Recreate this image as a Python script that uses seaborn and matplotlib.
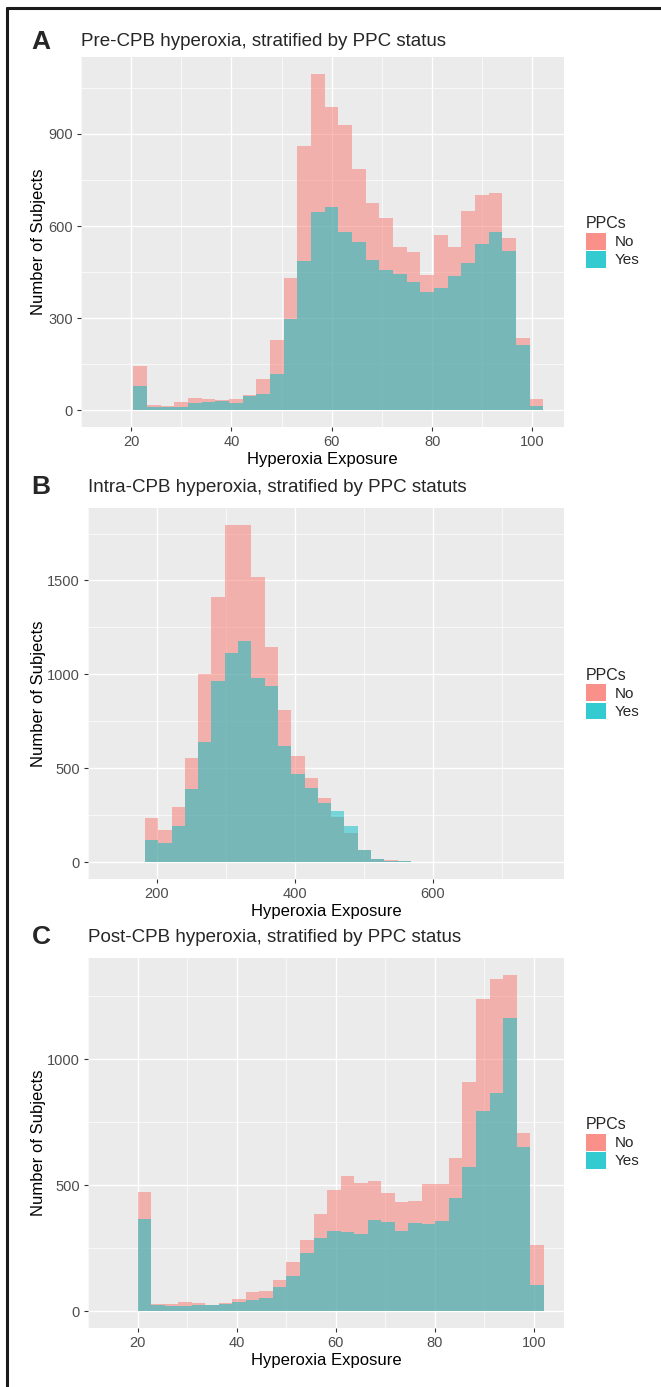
import numpy as np
import pandas as pd
import matplotlib
matplotlib.use('Agg')
import matplotlib.pyplot as plt
import seaborn as sns
from matplotlib.patches import Patch
from matplotlib.lines import Line2D

# counts per bin (30 bins each)
pre_no = [144, 16, 14, 27, 41, 38, 32, 36, 49, 103, 230, 430, 860, 1096, 988,
          928, 786, 676, 626, 532, 516, 442, 570, 532, 648, 700, 709, 560, 236, 36]
pre_yes = [79, 10, 9, 11, 22, 27, 30, 24, 45, 54, 119, 297, 485, 646, 663,
           579, 548, 488, 458, 444, 417, 384, 397, 438, 478, 543, 579, 519, 211, 13]
pre_range = [20.4, 102.2]

intra_no = [236, 169, 296, 554, 1003, 1411, 1793, 1796, 1518, 1148, 808, 563, 449, 341, 243,
            154, 66, 18, 9, 5, 3, 2, 2, 1, 1, 0, 0, 0, 0, 1]
intra_yes = [119, 101, 195, 390, 639, 967, 1113, 1180, 980, 937, 621, 467, 396, 314, 270,
             195, 62, 15, 7, 4, 2, 1, 1, 1, 0, 1, 0, 0, 0, 0]
intra_range = [182.6, 761.6]

post_no = [472, 29, 29, 38, 33, 26, 32, 49, 75, 79, 124, 197, 283, 384, 480,
           536, 509, 517, 470, 434, 437, 503, 503, 608, 907, 1239, 1318, 1334, 707, 262]
post_yes = [364, 26, 20, 22, 25, 26, 29, 38, 46, 53, 95, 141, 230, 289, 317,
            314, 308, 362, 355, 318, 351, 345, 358, 450, 572, 792, 867, 1164, 651, 105]
post_range = [20.0, 102.0]

pre_xticks = [20, 40, 60, 80, 100]
pre_yticks = [0, 300, 600, 900]
intra_xticks = [200, 400, 600]
intra_yticks = [0, 500, 1000, 1500]
post_xticks = [20, 40, 60, 80, 100]
post_yticks = [0, 500, 1000]

titles = ["Pre-CPB hyperoxia, stratified by PPC status",
          "Intra-CPB hyperoxia, stratified by PPC statuts",
          "Post-CPB hyperoxia, stratified by PPC status"]
letters = ["A", "B", "C"]

palette = {'No': '#F8766D', 'Yes': '#00BFC4'}

sns.set_style("darkgrid", {"axes.facecolor": "#EBEBEB", "grid.color": "white"})
plt.rcParams['font.family'] = ['Liberation Sans', 'DejaVu Sans']

W, H = 661, 1387
fig = plt.figure(figsize=(W / 100, H / 100), dpi=100)

# panel boxes in pixels: left, right, top, bottom
boxes = [(81, 564, 57, 427), (88, 564, 508, 879), (88, 564, 958, 1328)]
title_y = [42, 487, 937]

panels = [
    (pre_no, pre_yes, pre_range, pre_xticks, pre_yticks, 10, 150),
    (intra_no, intra_yes, intra_range, intra_xticks, intra_yticks, 100, 250),
    (post_no, post_yes, post_range, post_xticks, post_yticks, 10, 250),
]

for i, (no, yes, rng, xt, yt, xminor, yminor) in enumerate(panels):
    l, r, t, b = boxes[i]
    ax = fig.add_axes([l / W, 1 - b / H, (r - l) / W, (b - t) / H])

    edges = np.linspace(rng[0], rng[1], len(no) + 1)
    centers = (edges[:-1] + edges[1:]) / 2
    df = pd.DataFrame({
        'exposure': np.concatenate([centers, centers]),
        'count': np.concatenate([no, yes]).astype(float),
        'PPCs': ['No'] * len(no) + ['Yes'] * len(yes),
    })
    # Yes drawn last so it sits on top of No (ggplot overlapping alpha look)
    sns.histplot(df, x='exposure', weights='count', hue='PPCs', hue_order=['Yes', 'No'],
                 bins=list(edges), multiple='layer', alpha=0.5, palette=palette,
                 linewidth=0, ax=ax, legend=False)

    span = rng[1] - rng[0]
    ax.set_xlim(rng[0] - 0.05 * span, rng[1] + 0.05 * span)
    top = max(max(no), max(yes))
    ax.set_ylim(-0.05 * top, 1.05 * top)

    ax.set_xticks(xt)
    ax.set_yticks(yt)
    xmin = np.arange(xt[0] - xminor, ax.get_xlim()[1], 2 * xminor)
    ymin = np.arange(yt[0] + yminor, ax.get_ylim()[1], 2 * yminor)
    ax.set_xticks(xmin, minor=True)
    ax.set_yticks(ymin, minor=True)
    ax.grid(which='major', color='white', linewidth=1.0)
    ax.grid(which='minor', color='white', linewidth=0.5)
    ax.tick_params(which='major', length=3, width=0.8, color='#333333',
                   labelcolor='#4D4D4D', labelsize=10.5, pad=3)
    ax.tick_params(which='minor', length=0)
    ax.tick_params(axis='x', bottom=True)
    ax.tick_params(axis='y', left=True)
    for s in ax.spines.values():
        s.set_visible(False)

    ax.set_xlabel("Hyperoxia Exposure", fontsize=12, color='black', labelpad=2)
    ax.set_ylabel("Number of Subjects", fontsize=12, color='black')
    ax.yaxis.set_label_coords((46 - l) / (r - l), 0.5)

    handles = [Patch(facecolor=palette['No'], alpha=0.8, linewidth=0),
               Patch(facecolor=palette['Yes'], alpha=0.8, linewidth=0)]
    ax.legend(handles, ['No', 'Yes'], title='PPCs', loc='center left',
              bbox_to_anchor=(1 + 22 / (r - l), 0.5), frameon=False,
              fontsize=11, title_fontsize=11.5, handlelength=1.3,
              handleheight=1.3, labelspacing=0.1, handletextpad=0.6,
              borderpad=0, borderaxespad=0, alignment='left')

    fig.text(41 / W, 1 - title_y[i] / H, letters[i], fontsize=19, fontweight='bold',
             ha='center', va='center')
    fig.text(l / W, 1 - title_y[i] / H, titles[i], fontsize=13.5, ha='left', va='center')

# outer frame (top and left edges visible)
fig.add_artist(Line2D([7 / W, 7 / W], [0, 1 - 8 / H], color='#1a1a1a', linewidth=2.2))
fig.add_artist(Line2D([7 / W, 1], [1 - 8 / H, 1 - 8 / H], color='#1a1a1a', linewidth=2.2))

fig.savefig('out.png', dpi=100)
